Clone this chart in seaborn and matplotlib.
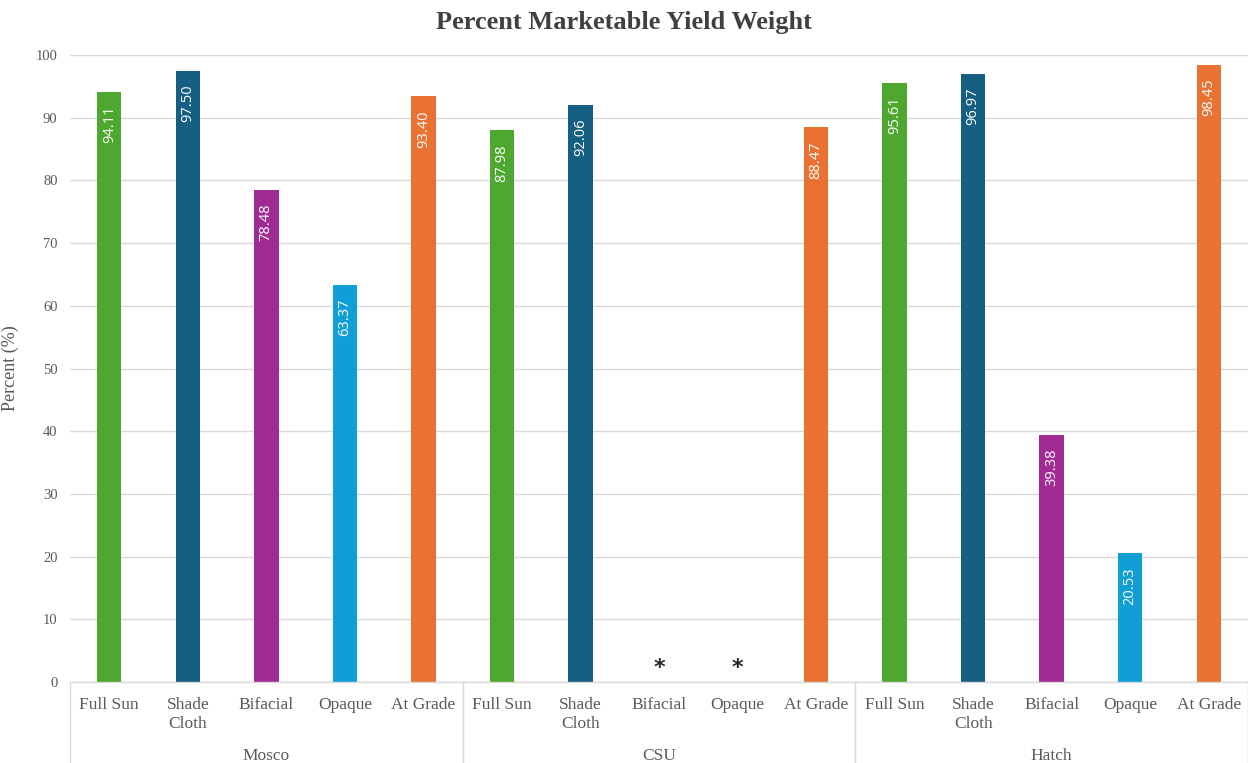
import numpy as np
import pandas as pd
import matplotlib
matplotlib.use("Agg")
import matplotlib.pyplot as plt
import matplotlib.transforms as mtransforms
import seaborn as sns

groups = ["Mosco", "CSU", "Hatch"]
treatments = ["Full Sun", "Shade\nCloth", "Bifacial", "Opaque", "At Grade"]
mosco = [94.11, 97.50, 78.48, 63.37, 93.40]
csu = [87.98, 92.06, np.nan, np.nan, 88.47]
hatch = [95.61, 96.97, 39.38, 20.53, 98.45]
treatment_colors = ["#4EA72E", "#156082", "#A02B93", "#0F9ED5", "#E97132"]

rows = []
for g, vals in zip(groups, [mosco, csu, hatch]):
    for t, v, c in zip(treatments, vals, treatment_colors):
        rows.append({"key": f"{g}|{t}", "group": g, "treatment": t, "value": v, "color": c})
df = pd.DataFrame(rows)
keys = list(df["key"])
palette = dict(zip(df["key"], df["color"]))

sns.set_style("white")
plt.rcParams["font.family"] = ["Liberation Serif", "DejaVu Serif"]

fig = plt.figure(figsize=(12.48, 7.63), dpi=100)
ax = fig.add_axes([70 / 1248, 81 / 763, 1178 / 1248, 627 / 763])

sns.barplot(data=df.dropna(subset=["value"]), x="key", y="value", hue="key",
            order=keys, hue_order=keys, palette=palette, legend=False,
            width=0.31, saturation=1, ax=ax, linewidth=0)

ax.set_ylim(0, 100)
ax.set_xlim(-0.5, len(keys) - 0.5)
ax.set_yticks(np.arange(0, 101, 10))
ax.yaxis.grid(True, color="#D9D9D9", linewidth=1)
ax.set_axisbelow(True)
for s in ["top", "right", "left"]:
    ax.spines[s].set_visible(False)
ax.spines["bottom"].set_color("#D9D9D9")
ax.spines["bottom"].set_linewidth(1)
ax.tick_params(axis="y", length=0, pad=9, labelsize=10.5, labelcolor="#595959")
ax.tick_params(axis="x", length=0, pad=11, labelsize=12.5, labelcolor="#595959")
ax.set_xticks(range(len(keys)))
ax.set_xticklabels(list(df["treatment"]), linespacing=1.2)
ax.set_xlabel("")
ax.set_ylabel("Percent (%)", fontsize=13, color="#595959", labelpad=12)

# value labels
for i, v in enumerate(df["value"]):
    if np.isnan(v):
        ax.text(i, 2.3, "*", ha="center", va="center", fontsize=16,
                fontweight="bold", color="#262626", family="DejaVu Sans")
    else:
        ax.annotate(f"{v:.2f}", xy=(i, v), xytext=(0, -10), textcoords="offset points",
                    rotation=90, ha="center", va="top", color="white",
                    fontsize=10.5, family=["Open Sans", "DejaVu Sans"])

# group separators and labels
trans = mtransforms.blended_transform_factory(ax.transData, ax.transAxes)
for xs in [-0.5, 4.5, 9.5, 14.5]:
    ax.plot([xs, xs], [0, -0.135], transform=trans, color="#D9D9D9",
            linewidth=1, clip_on=False)
for gi, g in enumerate(groups):
    ax.text(gi * 5 + 2, -0.118, g, transform=trans, ha="center", va="center",
            fontsize=12.5, color="#595959")

fig.text(0.5, 1 - 22 / 763, "Percent Marketable Yield Weight", ha="center", va="center",
         fontsize=19, fontweight="bold", color="#404040")

fig.savefig("out.png", dpi=100)
